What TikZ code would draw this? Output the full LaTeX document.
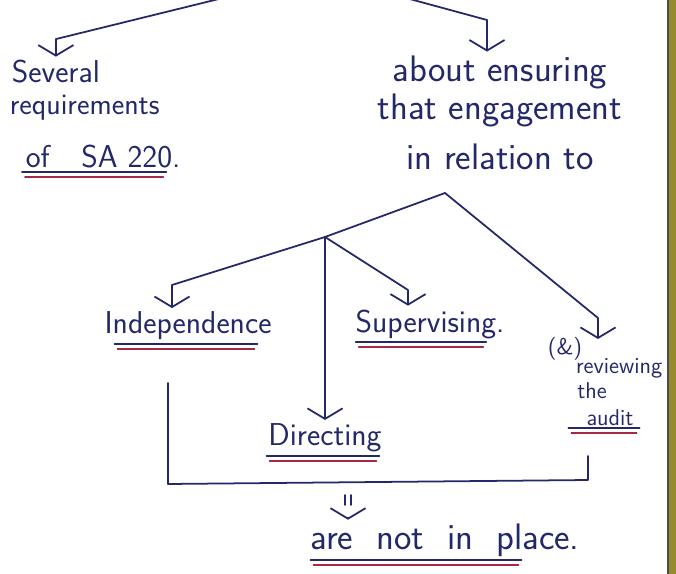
\documentclass[tikz,border=0pt]{standalone}
\usepackage{tikz}
\usetikzlibrary{arrows.meta}
\usetikzlibrary{positioning}
\usetikzlibrary{calc}

\definecolor{inkblue}{RGB}{35,40,105}
\definecolor{inkred}{RGB}{165,40,70}
\definecolor{paperedge}{RGB}{150,138,45}

% double underline (blue over red) under a named node
\newcommand{\inkunder}[3]{%
	\draw[ink] ($(#1.south west)+(#2,0)$) -- ($(#1.south east)+(-#3,0)$);
	\draw[ink, inkred] ($(#1.south west)+(#2+3,5)$) -- ($(#1.south east)+(-#3-3,5)$);}

\begin{document}
\begin{tikzpicture}[x=0.02cm, y=-0.02cm]
			\tikzset{ink/.style = {draw=inkblue, line width=1pt, line cap=round, line join=round}}
			\tikzset{edge/.style = {ink, -{Straight Barb[length=6pt,width=20pt,line width=1pt]}}}
			\tikzset{note/.style = {text=inkblue, inner sep=2pt, font=\sffamily\fontsize{18}{20}\selectfont}}
			\tikzset{bignote/.style = {note, font=\sffamily\fontsize{21}{24}\selectfont}}
			\tikzset{smallnote/.style = {note, inner sep=1pt, font=\sffamily\fontsize{13}{15}\selectfont}}
			
			\useasboundingbox (0,0) rectangle (676,574);
			\fill[white] (0,0) rectangle (676,574);
			\fill[paperedge] (668,0) rectangle (676,574);
			\draw[black!70, line width=0.8pt] (668,0) -- (668,574);
			
			% vertices
			\node[note, anchor=west] (sev1) at (8,72) {Several};
			\node[note, anchor=west, font=\sffamily\fontsize{17}{19}\selectfont] (sev2) at (6,108) {requirements};
			\node[note, anchor=west] (sev3) at (22,157) {of\quad SA 220.};
			
			\node[bignote] (abt1) at (500,72) {about ensuring};
			\node[bignote] (abt2) at (500,110) {that engagement};
			\node[bignote] (abt3) at (500,157) {in relation to};
			
			\node[note] (ind) at (188,326) {Independence};
			\node[note] (sup) at (430,324) {Supervising.};
			\node[note] (dir) at (325,438) {Directing};
			\node[smallnote] (amp) at (565,349) {(\&)};
			\node[smallnote, anchor=west] (rev1) at (574,368) {reviewing};
			\node[smallnote] (rev2) at (592,391) {the};
			\node[smallnote] (rev3) at (610,418) {audit};
			\node[bignote] (plc) at (445,540) {are\ \ not\ \ in\ \ place.};
			
			\coordinate (topL) at (235,-5);
			\coordinate (topR) at (395,-5);
			\coordinate (kR0) at (487,20);
			\coordinate (apex) at (445,193);
			\coordinate (br) at (325,237);
			\coordinate (kI) at (172,285);
			\coordinate (kS) at (408,290);
			\coordinate (kR) at (598,318);
			\coordinate (bl) at (168,383);
			\coordinate (bbl) at (168,484);
			\coordinate (bbr) at (588,480);
			\coordinate (brr) at (588,456);
			\coordinate (impl) at (348,495);
			
			%edges
			\draw[edge] (topL) -- ([yshift=10pt]sev1.north) -- (sev1.north);
			\draw[edge] (topR) -- (kR0) -- (kR0 |- abt1.north);
			\draw[ink] (apex) -- (br);
			\draw[edge] (apex) -- (kR) -- ([yshift=-2pt]kR |- amp.north);
			\draw[edge] (br) -- (kI) -- (kI |- ind.north);
			\draw[edge] (br) -- (kS) -- (kS |- sup.north);
			\draw[edge] (br) -- (br |- dir.north);
			\draw[ink] (bl) -- (bbl) -- (bbr) -- (brr);
			% implies sign
			\draw[ink] ([xshift=-1.5pt]impl) -- ++(0,10);
			\draw[ink] ([xshift=1.5pt]impl) -- ++(0,10);
			\draw[edge] ([yshift=1pt]impl |- plc.north) -- (impl |- plc.north);
			
			% underlines
			\inkunder{sev3}{0}{18}
			\inkunder{ind}{14}{18}
			\inkunder{sup}{4}{22}
			\inkunder{dir}{2}{6}
			\inkunder{rev3}{-16}{-4}
			\inkunder{plc}{4}{62}
			
			\end{tikzpicture}
\end{document}
